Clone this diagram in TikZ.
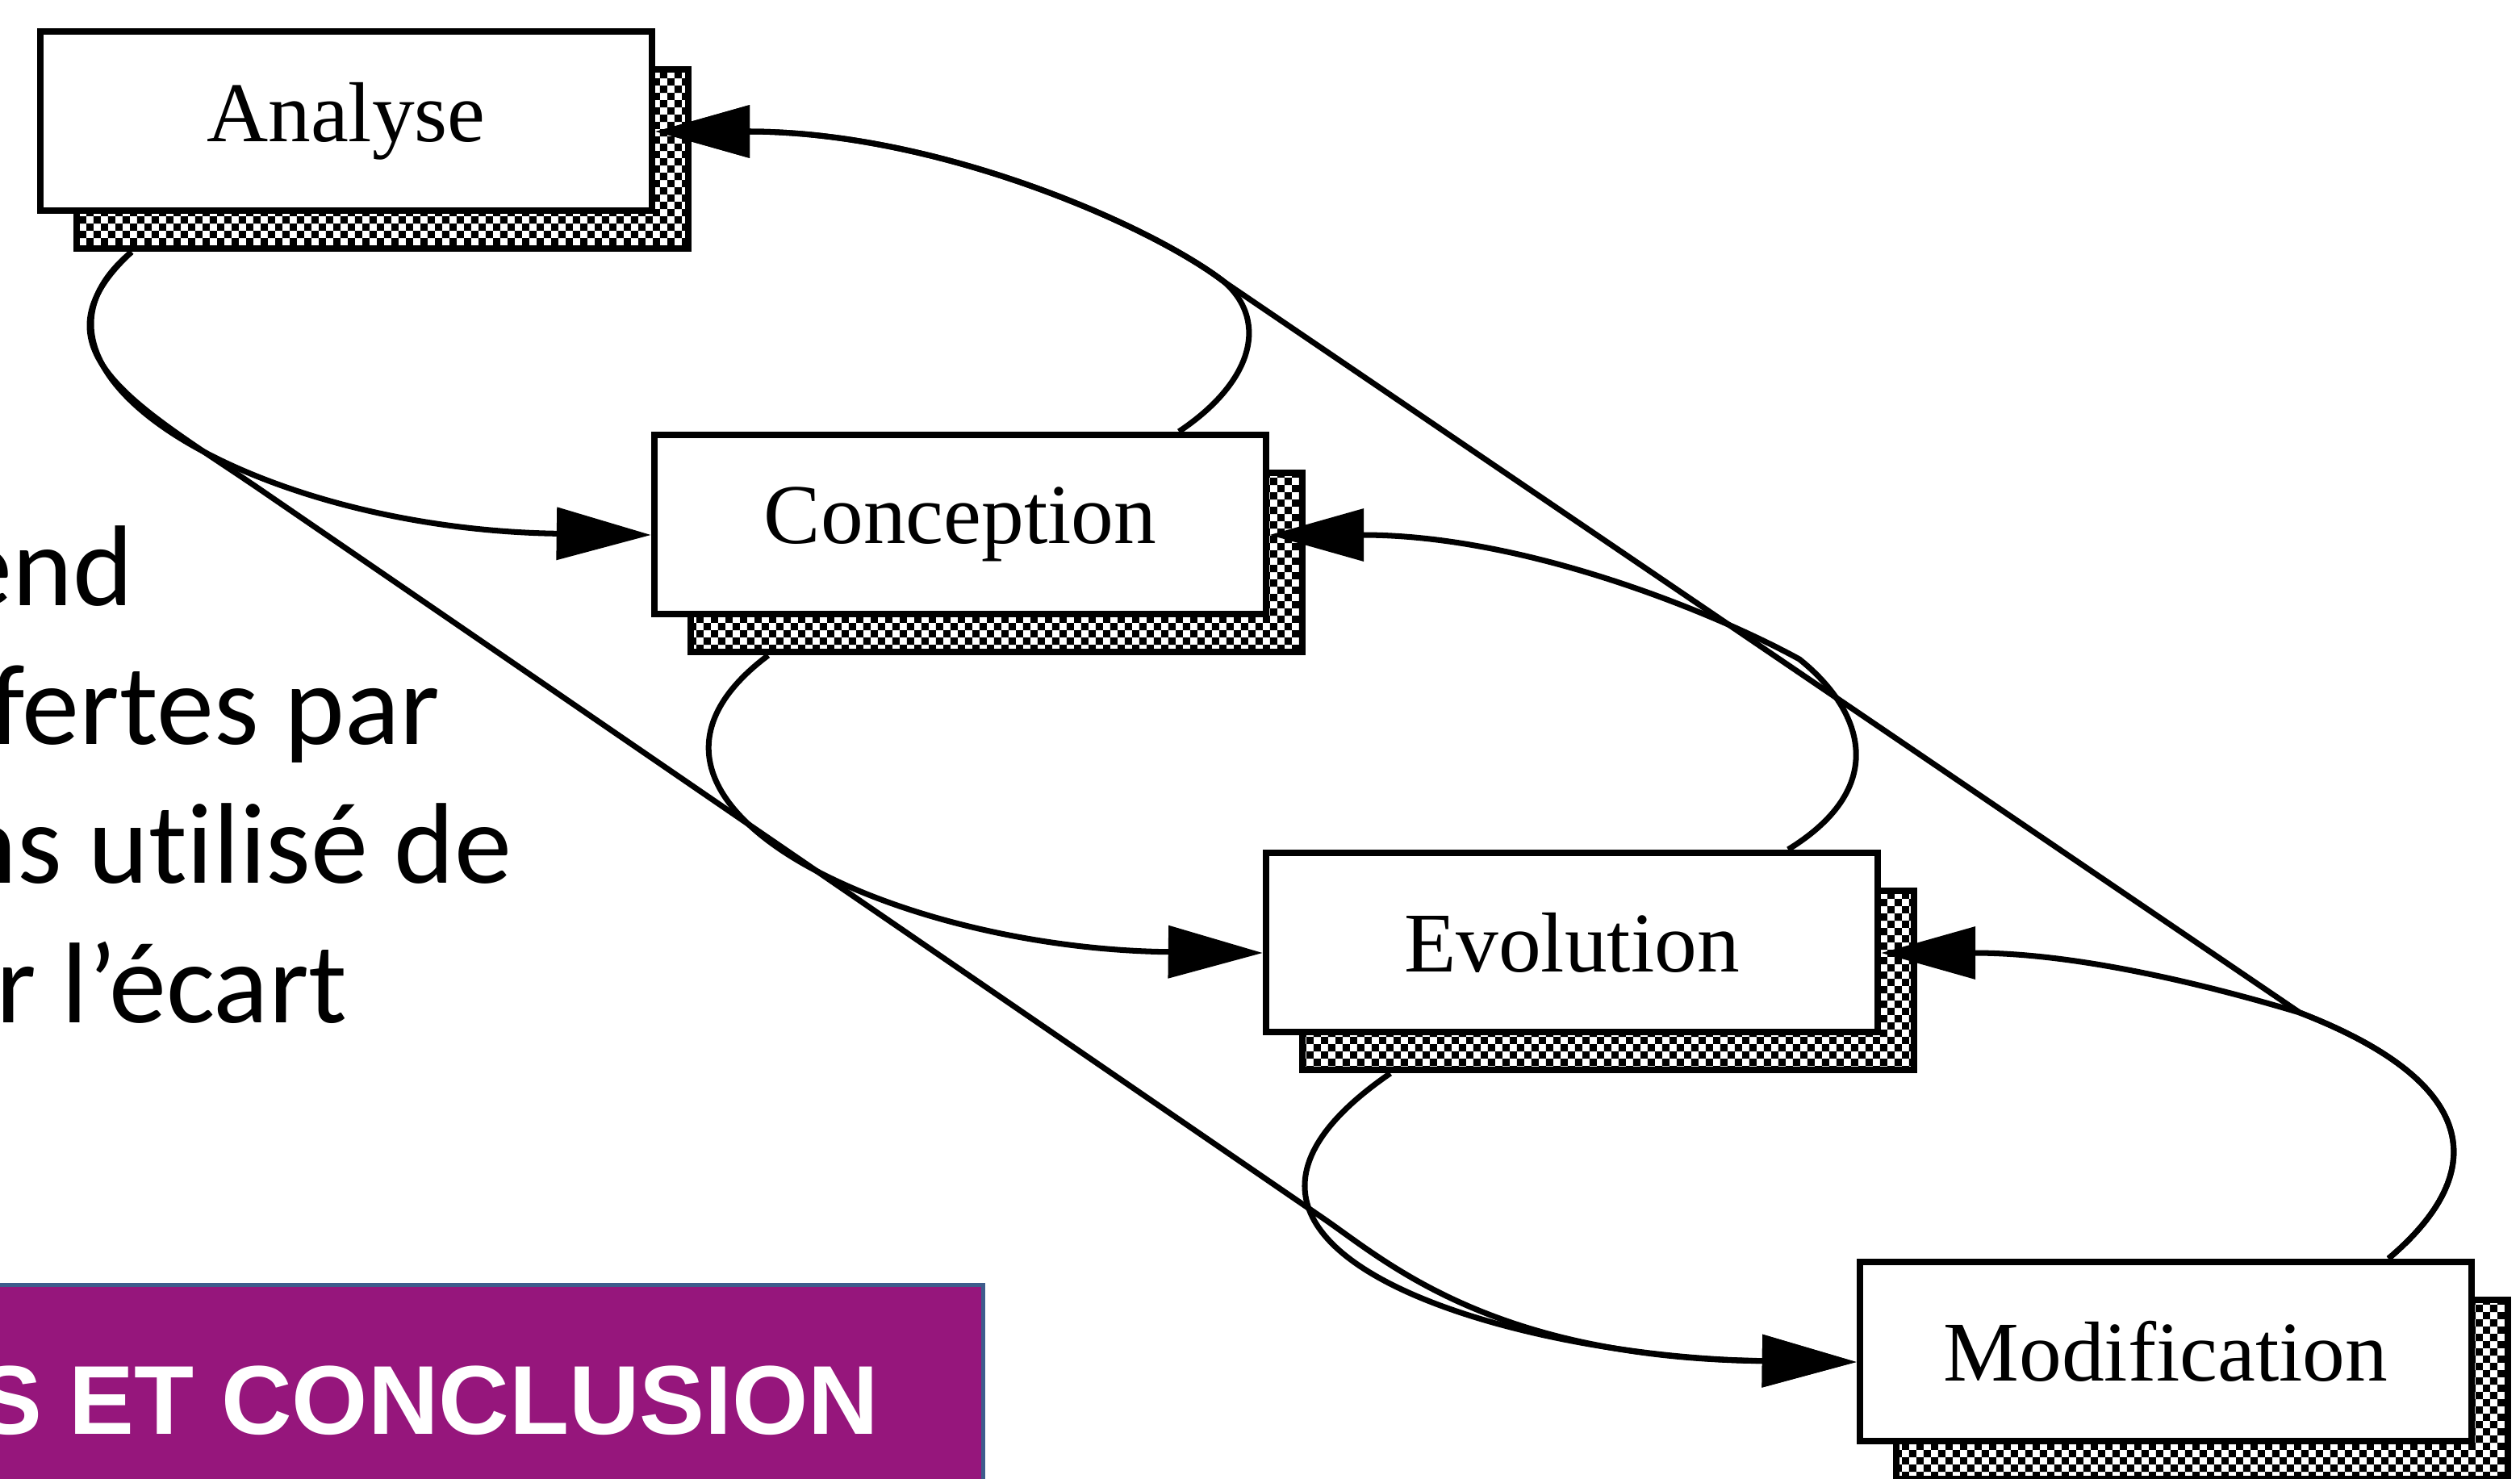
\documentclass[tikz,border=0pt]{standalone}
\usepackage{fontspec}
\setmainfont{Liberation Serif}
\newfontfamily\slidefont[Ligatures=NoCommon]{Carlito}
\newfontfamily\titlefont{Liberation Sans}
\usetikzlibrary{arrows.meta}
\usetikzlibrary{patterns.meta}

\definecolor{bannerpurple}{RGB}{150,22,124}
\definecolor{bannerblue}{RGB}{62,92,140}

\tikzdeclarepattern{
  name=pixcheck,
  type=uncolored,
  bottom left={(0cm,0cm)},
  top right={(0.18cm,0.18cm)},
  tile size={(0.18cm,0.18cm)},
  code={
    \fill (0cm,0cm) rectangle (0.09cm,0.09cm);
    \fill (0.09cm,0.09cm) rectangle (0.18cm,0.18cm);
  }
}

\tikzset{
  stagebox/.style={draw=black, line width=2.4pt, fill=white, inner sep=0pt,
    minimum width=7.58cm, minimum height=2.22cm, font=\fontsize{30}{36}\selectfont,
    preaction={draw=black, line width=2.4pt, pattern=pixcheck,
      transform canvas={shift={(0.45cm,-0.47cm)}}}},
  flow/.style={line width=2pt, -{Triangle[length=1.17cm,width=0.64cm]}},
  slideline/.style={anchor=base east, inner sep=0pt, font=\slidefont\fontsize{40.5}{48}\selectfont}
}

\begin{document}
\begin{tikzpicture}
        \clip (0,0) rectangle (31.23,-18.33);

        \node[slideline] (line1) at (1.66,-7.50) {end};
        \node[slideline] (line2) at (5.46,-9.22) {fertes par};
        \node[slideline] (line3) at (6.35,-10.94) {ns utilisé de};
        \node[slideline] (line4) at (4.31,-12.67) {r l’écart};

        \fill[bannerpurple] (0,-15.9) rectangle (12.21,-18.33);
        \draw[bannerblue, line width=1.5pt] (0,-15.925) -- (12.185,-15.925) -- (12.185,-18.4);
        \node[anchor=base east, inner sep=0pt, text=white, font=\titlefont\bfseries\fontsize{34.5}{40}\selectfont] (banner) at (10.9,-17.77) {S ET CONCLUSION};

        \node[stagebox] (analyse) at (4.29,-1.50) {Analyse};
        \node[stagebox] (conception) at (11.90,-6.50) {Conception};
        \node[stagebox] (evolution) at (19.48,-11.68) {Evolution};
        \node[stagebox] (modification) at (26.84,-16.75) {Modification};

        \draw[flow] ([xshift=-2.66cm,yshift=-4.7mm]analyse.south) .. controls +(-1.8,-1.5) and +(-4.88,0.07) .. ([yshift=-1.3mm]conception.west);
        \draw[flow] ([xshift=-2.38cm,yshift=-4.7mm]conception.south) .. controls +(-2.4,-1.8) and +(-4.6,0.05) .. ([yshift=-1.3mm]evolution.west);
        \draw[flow] ([xshift=-2.25cm,yshift=-4.7mm]evolution.south) .. controls +(-3.2,-2.2) and +(-4.2,0.05) .. ([yshift=-1.3mm]modification.west);
        \draw[flow] ([xshift=-2.66cm,yshift=-4.7mm]analyse.south) .. controls +(-1.3,-1.2) and +(-1.5,1.02) .. (3.2,-6.05) -- (16.4,-15.1) .. controls +(0.8,-0.55) and +(-4.5,0.05) .. ([yshift=-1.3mm]modification.west);

        \draw[flow] ([xshift=2.71cm]conception.north) .. controls +(0.9,0.6) and +(0.55,-0.5) .. (15.18,-3.50) .. controls +(-0.9,0.7) and +(3.5,0) .. ([yshift=-1.3mm]analyse.east);
        \draw[flow] ([xshift=2.68cm]evolution.north) .. controls +(1.3,0.8) and +(0.75,-0.6) .. (22.3,-8.17) .. controls +(-1.0,0.55) and +(3.2,0) .. ([yshift=-1.3mm]conception.east);
        \draw[flow] ([xshift=2.76cm]modification.north) .. controls +(1.3,1.1) and +(2.2,-0.85) .. (28.5,-12.55) .. controls +(-1.0,0.3) and +(2.5,0) .. ([yshift=-1.3mm]evolution.east);
        \draw[flow] ([xshift=2.76cm]modification.north) .. controls +(1.3,1.1) and +(2.2,-0.85) .. (28.5,-12.55) -- (15.18,-3.50) .. controls +(-0.9,0.7) and +(3.5,0) .. ([yshift=-1.3mm]analyse.east);
\end{tikzpicture}
\end{document}
